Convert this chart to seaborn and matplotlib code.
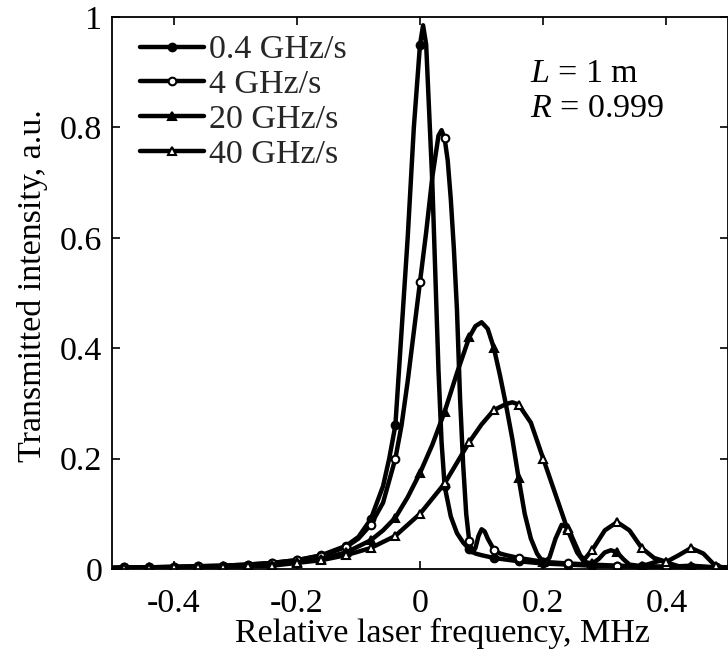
import numpy as np
import pandas as pd
import matplotlib
matplotlib.use("Agg")
import matplotlib.pyplot as plt
import seaborn as sns
from matplotlib.lines import Line2D

# ---------------- data ----------------
labels = ["0.4 GHz/s", "4 GHz/s", "20 GHz/s", "40 GHz/s"]

x_a = [-0.5, -0.48, -0.44, -0.40, -0.36, -0.32, -0.28, -0.24, -0.20, -0.16, -0.12, -0.10,
       -0.08, -0.06, -0.05, -0.04, -0.03, -0.02, -0.01, 0.0, 0.005, 0.01, 0.02, 0.025, 0.03,
       0.035, 0.04, 0.05, 0.06, 0.07, 0.08, 0.09, 0.10, 0.12, 0.16, 0.20, 0.24, 0.28, 0.32,
       0.36, 0.40, 0.44, 0.48, 0.5]
y_a = [0.002, 0.003, 0.003, 0.004, 0.005, 0.006, 0.008, 0.011, 0.016, 0.025, 0.042, 0.058,
       0.09, 0.15, 0.20, 0.26, 0.43, 0.60, 0.80, 0.95, 0.985, 0.95, 0.70, 0.53, 0.36,
       0.23, 0.15, 0.095, 0.065, 0.048, 0.036, 0.028, 0.025, 0.02, 0.014, 0.01, 0.008, 0.006, 0.005,
       0.004, 0.004, 0.003, 0.003, 0.003]

x_b = [-0.5, -0.48, -0.44, -0.40, -0.36, -0.32, -0.28, -0.24, -0.20, -0.16, -0.12, -0.10,
       -0.08, -0.06, -0.05, -0.04, -0.03, -0.02, -0.01, 0.0, 0.01, 0.02, 0.03, 0.035, 0.04,
       0.045, 0.05, 0.055, 0.06, 0.065, 0.07, 0.075, 0.08, 0.085, 0.09, 0.095, 0.10, 0.105,
       0.11, 0.12, 0.13, 0.14, 0.16, 0.20, 0.24, 0.28, 0.32, 0.36, 0.40, 0.44, 0.48, 0.5]
y_b = [0.002, 0.003, 0.003, 0.004, 0.005, 0.006, 0.008, 0.011, 0.016, 0.024, 0.04, 0.055,
       0.08, 0.12, 0.16, 0.20, 0.26, 0.34, 0.43, 0.52, 0.61, 0.71, 0.785, 0.795, 0.78,
       0.74, 0.67, 0.58, 0.47, 0.31, 0.19, 0.10, 0.05, 0.03, 0.038, 0.06, 0.072, 0.068,
       0.055, 0.035, 0.028, 0.025, 0.02, 0.013, 0.01, 0.008, 0.006, 0.005, 0.004, 0.004, 0.003, 0.003]

x_c = [-0.5, -0.48, -0.44, -0.40, -0.36, -0.32, -0.28, -0.24, -0.20, -0.16, -0.12, -0.08,
       -0.06, -0.04, -0.02, 0.0, 0.02, 0.04, 0.06, 0.08, 0.09, 0.10, 0.11, 0.12, 0.13, 0.14,
       0.15, 0.16, 0.17, 0.18, 0.19, 0.20, 0.21, 0.22, 0.23, 0.24, 0.25, 0.26, 0.27, 0.28,
       0.29, 0.30, 0.31, 0.32, 0.33, 0.34, 0.36, 0.38, 0.39, 0.40, 0.42, 0.44, 0.48, 0.5]
y_c = [0.002, 0.002, 0.003, 0.003, 0.004, 0.005, 0.006, 0.008, 0.012, 0.019, 0.03, 0.052,
       0.07, 0.093, 0.13, 0.174, 0.225, 0.285, 0.355, 0.42, 0.44, 0.447, 0.435, 0.40, 0.35, 0.295,
       0.235, 0.165, 0.10, 0.055, 0.028, 0.012, 0.02, 0.055, 0.08, 0.075, 0.05, 0.025, 0.012, 0.01,
       0.018, 0.03, 0.034, 0.03, 0.018, 0.008, 0.005, 0.012, 0.015, 0.012, 0.005, 0.006, 0.003, 0.003]

x_d = [-0.5, -0.48, -0.44, -0.40, -0.36, -0.32, -0.28, -0.24, -0.20, -0.16, -0.12, -0.08,
       -0.04, 0.0, 0.04, 0.08, 0.10, 0.12, 0.14, 0.15, 0.16, 0.18, 0.20, 0.22, 0.24, 0.255, 0.265,
       0.28, 0.30, 0.32, 0.34, 0.36, 0.38, 0.40, 0.42, 0.44, 0.46, 0.48, 0.5]
y_d = [0.002, 0.002, 0.002, 0.003, 0.003, 0.004, 0.005, 0.006, 0.011, 0.016, 0.025, 0.038,
       0.06, 0.10, 0.155, 0.23, 0.262, 0.288, 0.299, 0.302, 0.298, 0.265, 0.20, 0.135, 0.07, 0.03,
       0.015, 0.035, 0.07, 0.085, 0.07, 0.038, 0.02, 0.013, 0.025, 0.038, 0.028, 0.005, 0.002]

xticks = [-0.4, -0.2, 0, 0.2, 0.4]
xticklabels = ["-0.4", "-0.2", "0", "0.2", "0.4"]
yticks = [0, 0.2, 0.4, 0.6, 0.8, 1.0]
yticklabels = ["0", "0.2", "0.4", "0.6", "0.8", "1"]

# ---------------- style ----------------
sns.set_theme(style="ticks")
plt.rcParams["font.family"] = ["Liberation Serif", "DejaVu Serif"]
plt.rcParams["mathtext.fontset"] = "custom"
plt.rcParams["mathtext.rm"] = "Liberation Serif"
plt.rcParams["mathtext.it"] = "Liberation Serif:italic"
FS = 24.5
LW = 3.2
MS = 5.5

fig = plt.figure(figsize=(7.28, 6.57), dpi=100)
ax = fig.add_axes([112 / 728, 88 / 657, 616 / 728, 552 / 657])

styles = [
    dict(marker="o", mfc="black"),
    dict(marker="o", mfc="white"),
    dict(marker="^", mfc="black"),
    dict(marker="^", mfc="white"),
]
series = [(x_a, y_a), (x_b, y_b), (x_c, y_c), (x_d, y_d)]

handles = []
for (xs, ys), lab, st in zip(series, labels, styles):
    xs_arr = np.asarray(xs)
    k = xs_arr / 0.04
    mask = (np.abs(k - np.round(k)) < 1e-6) & (np.abs(xs_arr) <= 0.485)
    df = pd.DataFrame({"x": xs, "y": ys})
    sns.lineplot(data=df, x="x", y="y", ax=ax, color="black", linewidth=LW,
                 marker=st["marker"], markerfacecolor=st["mfc"], markeredgecolor="black",
                 markersize=MS, markeredgewidth=1.5, markevery=list(mask),
                 sort=False, estimator=None, legend=False)
    handles.append(Line2D([], [], color="black", linewidth=LW, marker=st["marker"],
                          markerfacecolor=st["mfc"], markeredgecolor="black",
                          markersize=MS, markeredgewidth=1.5, label=lab))

ax.set_xlim(-0.5, 0.5)
ax.set_ylim(0, 1)
ax.set_xticks(xticks)
ax.set_xticklabels(xticklabels)
ax.set_yticks(yticks)
ax.set_yticklabels(yticklabels)
ax.tick_params(direction="in", top=True, right=True, length=6, width=1.2,
               labelsize=FS, colors="black")
ax.tick_params(axis="x", pad=14)
ax.tick_params(axis="y", pad=7)
for s in ax.spines.values():
    s.set_color("black")
    s.set_linewidth(1.3)

ax.set_xlabel("Relative laser frequency, MHz", fontsize=FS, color="black")
ax.set_ylabel("Transmitted intensity, a.u.", fontsize=FS, color="black")
ax.xaxis.set_label_coords((442 - 112) / 616, -0.089)
ax.yaxis.set_label_coords(-0.104, 0.514)

ax.legend(handles=handles, loc="upper left", bbox_to_anchor=(0.045, 0.968),
          frameon=False, fontsize=FS, handlelength=1.9, handletextpad=0.15,
          labelspacing=0.12, borderpad=0, borderaxespad=0, numpoints=1)

ax.text(0.679, 0.882, r"$L$ = 1 m", transform=ax.transAxes, fontsize=FS,
        va="baseline", ha="left", color="black")
ax.text(0.679, 0.819, r"$R$ = 0.999", transform=ax.transAxes, fontsize=FS,
        va="baseline", ha="left", color="black")

fig.savefig("out.png", dpi=100)
